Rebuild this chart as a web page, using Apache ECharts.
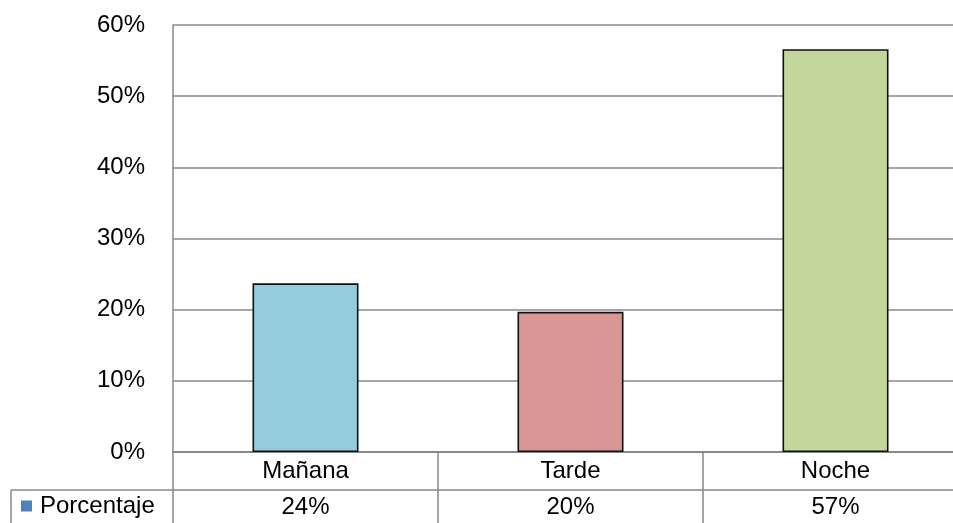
<!DOCTYPE html>
<html>
<head>
<meta charset="utf-8">
<script src="https://cdn.jsdelivr.net/npm/echarts@6/dist/echarts.min.js"></script>
<style>
  html, body { margin: 0; padding: 0; background: #fff; overflow: hidden; }
  /* the plot area runs a little past the right edge of the window */
  #chart { width: 970px; height: 523px; }
</style>
</head>
<body>
<div id="chart"></div>
<script>
// Share of responses by time of day
const categories = ['Mañana', 'Tarde', 'Noche'];
const seriesName = 'Porcentaje';
const values = [23.7, 19.7, 56.6];
const barColors = ['#93CDDD', '#D99694', '#C3D69B'];
const yTicks = [0, 10, 20, 30, 40, 50, 60];

const FONT = '"Liberation Sans", Arial, sans-serif';
const FONT_SIZE = 24;
const GRID_GRAY = '#888888';

// Data-table row under the axis: rounded value per category
const tableLabels = values.map(v => Math.round(v) + '%');

const chart = echarts.init(document.getElementById('chart'));

chart.setOption({
  animation: false,
  backgroundColor: '#fff',
  textStyle: { fontFamily: FONT, color: '#000' },
  grid: { left: 173, top: 25, right: 2, bottom: 71, containLabel: false },
  legend: {
    data: [seriesName],
    left: 21,
    top: 494,
    padding: 0,
    icon: 'rect',
    itemWidth: 11,
    itemHeight: 11,
    itemStyle: { borderWidth: 0 },
    textStyle: { fontSize: FONT_SIZE, color: '#000', fontFamily: FONT, padding: [0, 0, 0, 3] }
  },
  xAxis: [
    {
      type: 'category',
      data: categories,
      position: 'bottom',
      axisLine: { show: true, lineStyle: { color: GRID_GRAY, width: 2 } },
      axisTick: { show: true, length: 71, interval: 0, lineStyle: { color: GRID_GRAY, width: 1.5 } },
      axisLabel: { margin: 19, verticalAlign: 'middle', fontSize: FONT_SIZE, color: '#000', fontFamily: FONT, interval: 0 },
      splitLine: { show: false }
    },
    {
      type: 'category',
      data: tableLabels,
      position: 'bottom',
      offset: 38,
      axisLine: { show: true, lineStyle: { color: GRID_GRAY, width: 1.5 } },
      axisTick: { show: false },
      axisLabel: { margin: 17, verticalAlign: 'middle', fontSize: FONT_SIZE, color: '#000', fontFamily: FONT, interval: 0 },
      splitLine: { show: false }
    }
  ],
  yAxis: {
    type: 'value',
    min: yTicks[0],
    max: yTicks[yTicks.length - 1],
    interval: yTicks[1] - yTicks[0],
    axisLine: { show: true, lineStyle: { color: GRID_GRAY, width: 1.5 } },
    axisTick: { show: false },
    axisLabel: { margin: 28, fontSize: FONT_SIZE, color: '#000', fontFamily: FONT, formatter: '{value}%' },
    splitLine: { show: true, lineStyle: { color: GRID_GRAY, width: 1.5 } }
  },
  graphic: [
    // left part of the table: legend cell border
    { type: 'line', shape: { x1: 11, y1: 490, x2: 173, y2: 490 }, style: { stroke: GRID_GRAY, lineWidth: 1.5 }, silent: true },
    { type: 'line', shape: { x1: 11, y1: 490, x2: 11, y2: 523 }, style: { stroke: GRID_GRAY, lineWidth: 1.5 }, silent: true }
  ],
  series: [
    {
      name: seriesName,
      type: 'bar',
      xAxisIndex: 0,
      barWidth: '40%',
      itemStyle: { color: '#4F81BD', borderColor: '#111', borderWidth: 1.6 },
      data: values.map((v, i) => ({ value: v, itemStyle: { color: barColors[i] } }))
    }
  ]
});
</script>
</body>
</html>
